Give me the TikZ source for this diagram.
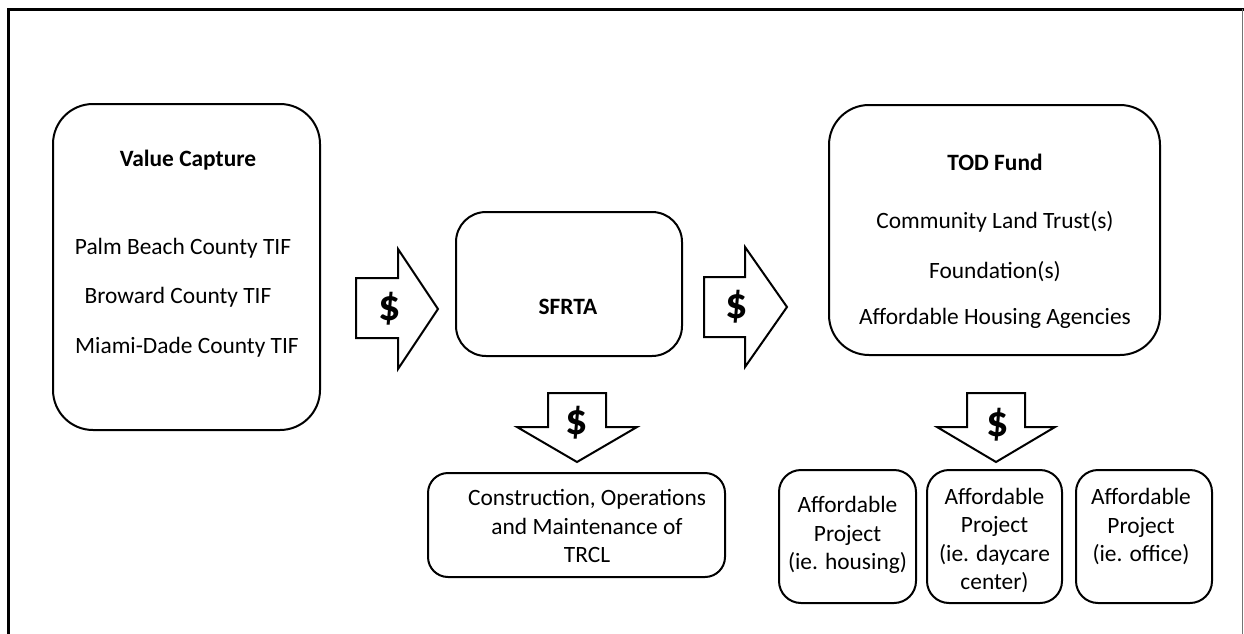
\documentclass[tikz,border=0pt]{standalone}
\usepackage{fontspec}
\setmainfont{Carlito}
\begin{document}
\begin{tikzpicture}[x=1pt,y=-1pt,
    box/.style={draw,line width=2pt,inner sep=0pt},
    txt/.style={font=\fontsize{23.4}{28.5}\selectfont,align=center,inner sep=0pt},
    ttl/.style={font=\fontsize{23.4}{28.5}\selectfont\bfseries,inner sep=0pt},
    dol/.style={font=\fontsize{44}{44}\selectfont\bfseries,inner sep=0pt},
    blk/.style={line width=2pt,line join=miter}]
  \useasboundingbox (0,0) rectangle (1244,634);
  %frame
  \draw[line width=3pt] (8.5,634) -- (8.5,9.5) -- (1244,9.5);
  \draw[line width=1pt,black!55] (1242.5,9.5) -- (1242.5,634);
  %value capture
  \node[box,rounded corners=40pt,minimum width=267pt,minimum height=326pt] (vc) at (186.5,267) {};
  \node[ttl] (vctitle) at (188,160) {Value Capture};
  \node[txt] (palm) at (183,248) {Palm Beach County TIF};
  \node[txt] (broward) at (178,297) {Broward County TIF};
  \node[txt] (miami) at (187,347) {Miami-Dade County TIF};
  %sfrta
  \node[box,rounded corners=30pt,minimum width=226pt,minimum height=144pt] (sfrta) at (569,284) {};
  \node[ttl] (sfrtatitle) at (568,307) {SFRTA};
  %tod fund
  \node[box,rounded corners=40pt,minimum width=331pt,minimum height=250pt] (tod) at (994.5,230) {};
  \node[ttl] (todtitle) at (995,162) {TOD Fund};
  \node[txt] (clt) at (995,222) {Community Land Trust(s)};
  \node[txt] (found) at (995,272) {Foundation(s)};
  \node[txt] (aha) at (995,318) {Affordable Housing Agencies};
  %construction
  \node[box,rounded corners=20pt,minimum width=297pt,minimum height=104pt] (trcl) at (576.5,525) {};
  \node[txt] (trcltext) at (587,526) {Construction, Operations\\and Maintenance of\\TRCL};
  %projects
  \node[box,rounded corners=22pt,minimum width=137pt,minimum height=133pt] (proj1) at (847.5,536.5) {};
  \node[box,rounded corners=22pt,minimum width=135pt,minimum height=133pt] (proj2) at (994.5,536.5) {};
  \node[box,rounded corners=22pt,minimum width=136pt,minimum height=133pt] (proj3) at (1144,536.5) {};
  \node[txt] (proj1text) at (847.5,535) {Affordable\\Project\\(ie. housing)};
  \node[txt] (proj2text) at (994.5,540.5) {Affordable\\Project\\(ie. daycare\\center)};
  \node[txt] (proj3text) at (1141,526.5) {Affordable\\Project\\(ie. office)};
  %$ arrows
  \draw[blk] (356,278) -- (398,278) -- (398,249) -- (438,309) -- (398,369) -- (398,338) -- (356,338) -- cycle;
  \node[dol] (dol1) at (390,309) {\$};
  \draw[blk] (704,277) -- (745,277) -- (745,247) -- (787,307) -- (745,367) -- (745,337) -- (704,337) -- cycle;
  \node[dol] (dol2) at (737,307) {\$};
  \draw[blk] (548,393) -- (606,393) -- (606,427) -- (637,427) -- (577,462) -- (517,427) -- (548,427) -- cycle;
  \node[dol] (dol3) at (577,423) {\$};
  \draw[blk] (967,393) -- (1025,393) -- (1025,427) -- (1055,427) -- (996,462) -- (937,427) -- (967,427) -- cycle;
  \node[dol] (dol4) at (998,425) {\$};
\end{tikzpicture}
\end{document}
